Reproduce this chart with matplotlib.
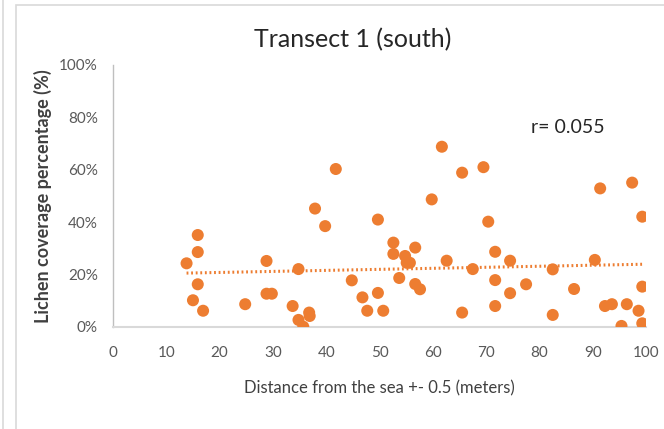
import numpy as np
import matplotlib
matplotlib.use("Agg")
import matplotlib.pyplot as plt
from matplotlib.lines import Line2D
from matplotlib.patches import Rectangle

plt.rcParams['font.family'] = ['Lato', 'DejaVu Sans']

# distance from the sea (m) and lichen coverage (%)
distance = [13.8, 15.9, 15.9, 15.9, 15.0, 16.9, 24.8, 28.8, 28.8, 29.8,
            33.7, 34.8, 34.8, 35.7, 36.8, 36.9, 37.9, 39.8, 41.8, 44.8,
            46.8, 47.7, 49.7, 49.7, 50.7, 52.6, 52.6, 53.7, 54.8, 55.1,
            55.7, 56.7, 56.7, 57.6, 59.8, 61.7, 62.6, 65.5, 65.5, 67.5,
            69.5, 70.4, 71.7, 71.7, 71.7, 74.5, 74.5, 77.5, 82.5, 82.5,
            86.5, 90.4, 91.4, 92.3, 93.6, 96.4, 95.4, 97.4, 98.6, 99.3,
            99.3, 99.3]
coverage = [24.3, 35.1, 28.6, 16.3, 10.2, 6.2, 8.7, 25.2, 12.7, 12.7,
            8.0, 22.1, 2.7, 0.1, 5.5, 4.2, 45.2, 38.5, 60.3, 17.8,
            11.3, 6.2, 13.0, 41.0, 6.2, 32.2, 27.9, 18.7, 27.1, 24.5,
            24.5, 30.3, 16.4, 14.4, 48.7, 68.8, 25.3, 58.9, 5.5, 22.1,
            61.0, 40.2, 28.7, 17.9, 8.0, 25.3, 12.9, 16.3, 22.0, 4.6,
            14.5, 25.6, 52.9, 8.0, 8.7, 8.7, 0.4, 55.1, 6.2, 42.1,
            15.4, 1.4]

x_ticks = [0, 10, 20, 30, 40, 50, 60, 70, 80, 90, 100]
y_ticks = [0, 20, 40, 60, 80, 100]

orange = '#ED7D31'
grey_text = '#595959'

fig = plt.figure(figsize=(6.64, 4.29), dpi=100)
ax = fig.add_axes([0.1702, 0.2378, 0.8027, 0.6107])

x = np.array(distance)
y = np.array(coverage)
ax.scatter(x, y, s=75, color=orange, edgecolors='none', zorder=3)

# linear trendline over the data range
slope, intercept = np.polyfit(x, y, 1)
xs = np.array([x.min(), x.max()])
ax.plot(xs, slope * xs + intercept, color=orange, lw=2.2,
        linestyle=(0, (0.6, 0.9)), zorder=2)

ax.set_xlim(0, 100)
ax.set_ylim(0, 100)
ax.set_xticks(x_ticks)
ax.set_yticks(y_ticks)
ax.set_yticklabels([f'{v}%' for v in y_ticks])
ax.tick_params(length=0, labelsize=11, colors=grey_text)
ax.tick_params(axis='y', pad=11)
ax.tick_params(axis='x', pad=14)

for side in ('top', 'right'):
    ax.spines[side].set_visible(False)
ax.spines['left'].set_color('#bfbfbf')
ax.spines['left'].set_linewidth(1.0)
ax.spines['bottom'].set_color('#d9d9d9')
ax.spines['bottom'].set_linewidth(1.5)

fig.text(353 / 664, 1 - 40 / 429, 'Transect 1 (south)', fontsize=18,
         color='#262626', ha='center', va='center')
ax.set_xlabel('Distance from the sea +- 0.5 (meters)', fontsize=12,
              color='#404040', labelpad=14)
ax.set_ylabel('Lichen coverage percentage (%)', fontsize=13,
              fontweight='bold', color='#404040', labelpad=5)
ax.text(78.5, 76, 'r= 0.055', fontsize=14, color='#262626', va='center')

# chart frame
fig.patches.append(Rectangle((16 / 664, -0.1), 1.2, 1.1 - 5 / 429,
                             transform=fig.transFigure, fill=False,
                             edgecolor='#d9d9d9', lw=1.2))
fig.lines.append(Line2D([3 / 664, 3 / 664], [0, 1], transform=fig.transFigure,
                        color='#d9d9d9', lw=1.2))

fig.savefig('out.png', dpi=100)
